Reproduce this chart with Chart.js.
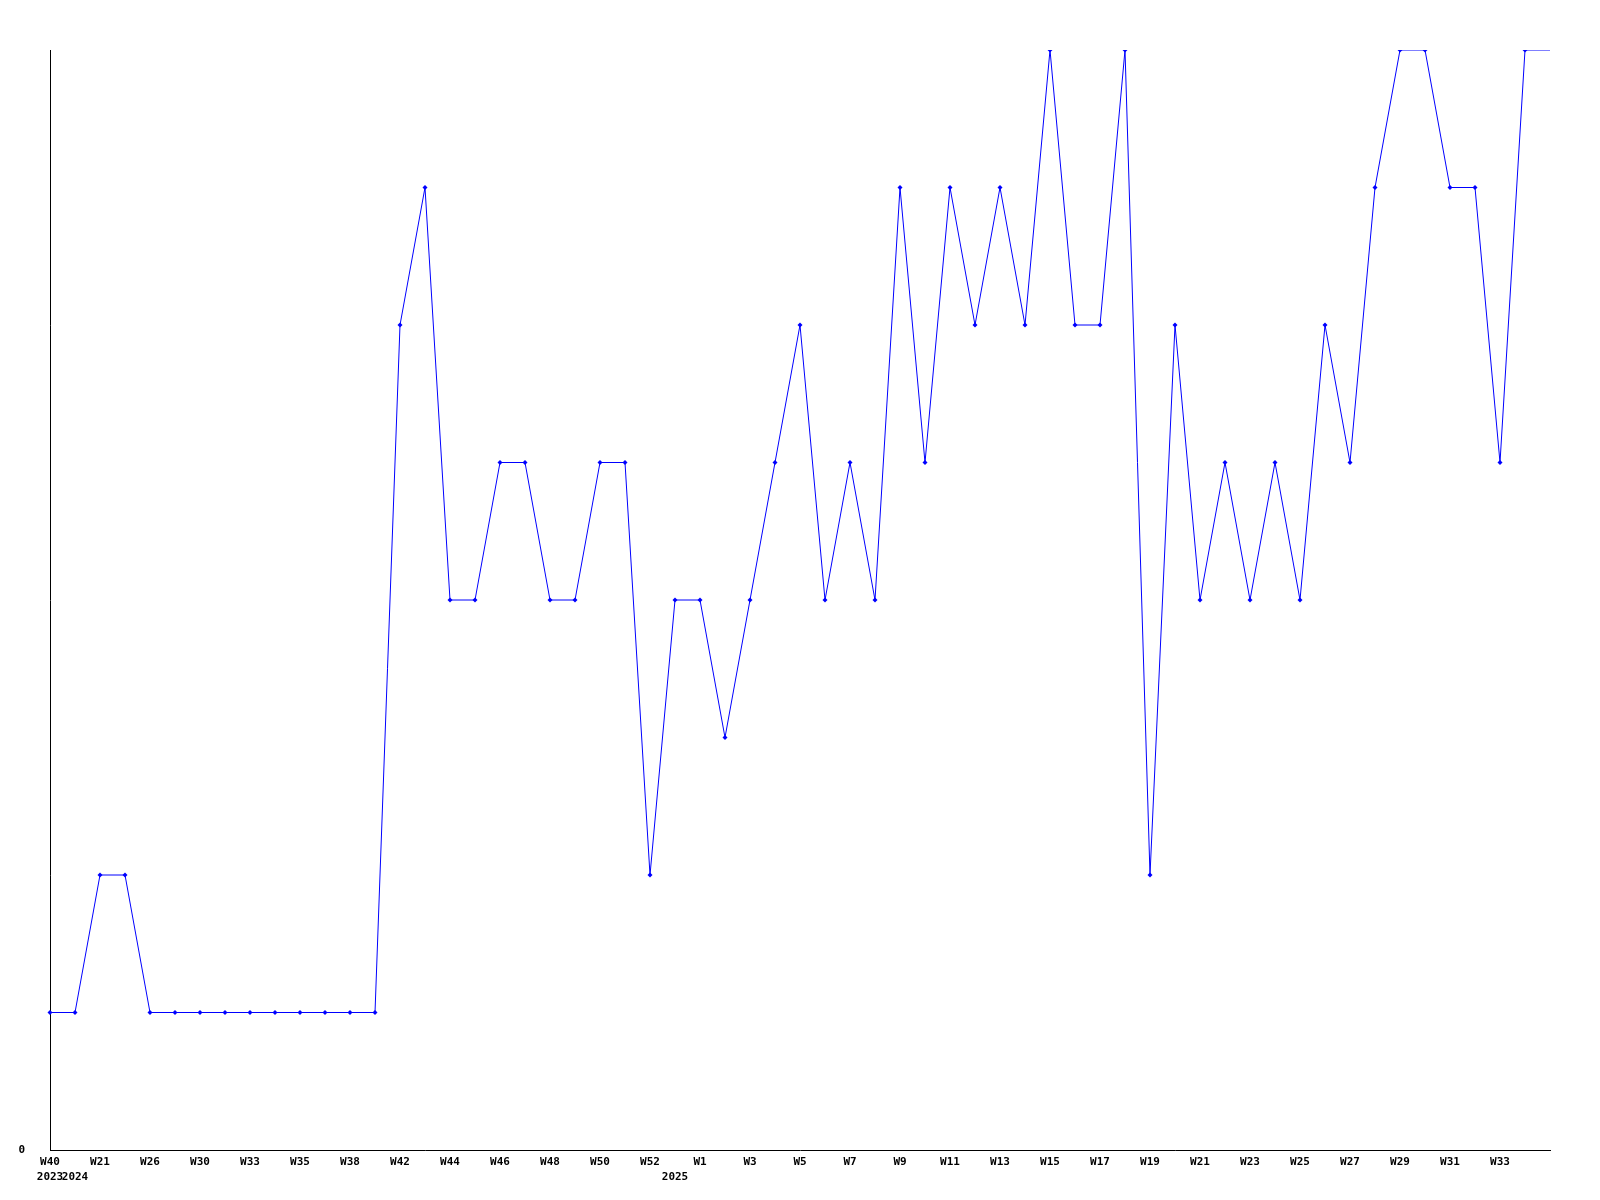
<!DOCTYPE html>
<html>
<head>
<meta charset="utf-8">
<script src="https://cdn.jsdelivr.net/npm/chart.js@4/dist/chart.umd.min.js"></script>
<style>
  html, body { margin: 0; padding: 0; background: #ffffff; }
  #c { display: block; }
</style>
</head>
<body>
<canvas id="c" width="1600" height="1200"></canvas>
<script>
// Week labels for each data point (one point per week in the data)
const weeks = [
  'W40', 'W20', 'W21', 'W22', 'W26', 'W27', 'W30', 'W31', 'W33', 'W34',
  'W35', 'W36', 'W38', 'W39', 'W42', 'W43', 'W44', 'W45', 'W46', 'W47',
  'W48', 'W49', 'W50', 'W51', 'W52', 'W0', 'W1', 'W2', 'W3', 'W4',
  'W5', 'W6', 'W7', 'W8', 'W9', 'W10', 'W11', 'W12', 'W13', 'W14',
  'W15', 'W16', 'W17', 'W18', 'W19', 'W20', 'W21', 'W22', 'W23', 'W24',
  'W25', 'W26', 'W27', 'W28', 'W29', 'W30', 'W31', 'W32', 'W33', 'W34',
  'W35'
];
// Year label shown under the first week of each year
const years = [
  '2023', '2024', '', '', '', '', '', '', '', '',
  '', '', '', '', '', '', '', '', '', '',
  '', '', '', '', '', '2025', '', '', '', '',
  '', '', '', '', '', '', '', '', '', '',
  '', '', '', '', '', '', '', '', '', '',
  '', '', '', '', '', '', '', '', '', '',
  ''
];
// Weekly counts
const counts = [
  1, 1, 2, 2, 1, 1, 1, 1, 1, 1,
  1, 1, 1, 1, 6, 7, 4, 4, 5, 5,
  4, 4, 5, 5, 2, 4, 4, 3, 4, 5,
  6, 4, 5, 4, 7, 5, 7, 6, 7, 6,
  8, 6, 6, 8, 2, 6, 4, 5, 4, 5,
  4, 6, 5, 7, 8, 8, 7, 7, 5, 8,
  8
];
const yTickLabels = ['0'];

const lastIdx = counts.length - 1;
const labels = weeks.map((w, i) => w + ' ' + years[i]);

new Chart(document.getElementById('c'), {
  type: 'line',
  data: {
    labels: labels,
    datasets: [{
      data: counts,
      borderColor: '#0000ff',
      backgroundColor: '#0000ff',
      borderWidth: 1,
      tension: 0,
      fill: false,
      pointStyle: 'rectRot',
      pointRadius: counts.map((v, i) => i === lastIdx ? 0 : 2.5),
      pointBorderWidth: 0,
      pointBackgroundColor: '#0000ff'
    }]
  },
  options: {
    responsive: false,
    animation: false,
    events: [],
    layout: { padding: { top: 50, right: 50, left: 0, bottom: 0 } },
    plugins: { legend: { display: false }, tooltip: { enabled: false } },
    scales: {
      x: {
        type: 'category',
        offset: false,
        grid: { display: false, drawTicks: false },
        border: { display: true, color: '#000000', width: 1 },
        afterFit: (a) => { a.height = 50; },
        ticks: {
          autoSkip: false,
          maxRotation: 0,
          minRotation: 0,
          padding: 5,
          color: '#000000',
          font: { family: 'DejaVu Sans Mono', size: 11, weight: 'bold', lineHeight: '15px' },
          callback: function (value, index) {
            const w = (index % 2 === 0 && index < lastIdx) ? weeks[index] : '';
            return [w, years[index]];
          }
        }
      },
      y: {
        min: 0,
        max: 8,
        grid: { display: false, drawTicks: false },
        border: { display: true, color: '#000000', width: 1 },
        afterFit: (a) => { a.width = 50; },
        afterBuildTicks: (a) => { a.ticks = [{ value: 0 }]; },
        ticks: {
          padding: 25,
          color: '#000000',
          font: { family: 'DejaVu Sans Mono', size: 11, weight: 'bold' },
          callback: (v, i) => yTickLabels[i] ?? ''
        }
      }
    }
  }
});
</script>
</body>
</html>
